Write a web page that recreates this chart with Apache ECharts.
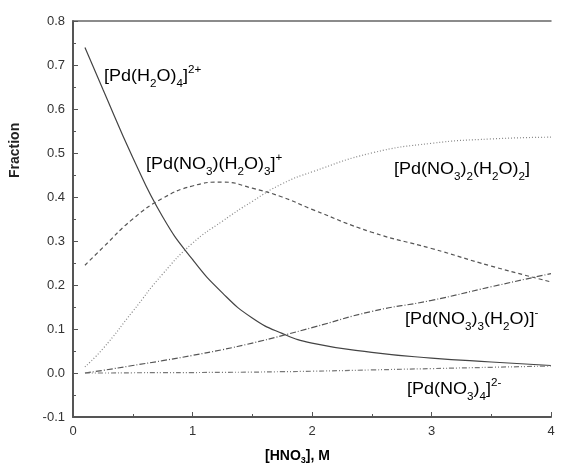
<!DOCTYPE html>
<html>
<head>
<meta charset="utf-8">
<script src="https://cdn.jsdelivr.net/npm/echarts@6/dist/echarts.min.js"></script>
<style>
  html, body { margin: 0; padding: 0; background: #fff; }
  #main { width: 566px; height: 465px; }
</style>
</head>
<body>
<div id="main"></div>
<script>
// [HNO3], M
var hno3 = [0.1, 0.25, 0.5, 0.75, 1, 1.25, 1.5, 1.75, 2, 2.5, 3, 3.5, 4];
// species fractions
var pdH2O4 = [0.74, 0.645, 0.49, 0.355, 0.258, 0.182, 0.125, 0.09, 0.068, 0.047, 0.034, 0.025, 0.017];
var pdNO3H2O3 = [0.245, 0.285, 0.35, 0.397, 0.425, 0.434, 0.42, 0.40, 0.372, 0.32, 0.283, 0.243, 0.207];
var pdNO32H2O2 = [0.014, 0.055, 0.14, 0.225, 0.295, 0.345, 0.39, 0.43, 0.457, 0.5, 0.522, 0.532, 0.536];
var pdNO33H2O = [0, 0.006, 0.017, 0.028, 0.04, 0.053, 0.068, 0.085, 0.103, 0.14, 0.165, 0.196, 0.226];
var pdNO34 = [0, 0, 0.0005, 0.0008, 0.001, 0.0015, 0.002, 0.003, 0.004, 0.007, 0.01, 0.013, 0.016];

function pairs(ys) {
  return hno3.map(function (x, i) { return [x, ys[i]]; });
}

var FONT = 'Liberation Sans, Arial, sans-serif';
var rich = {
  n: { fontSize: 17, fontFamily: FONT, color: '#222', lineHeight: 25 },
  sb: { fontSize: 11, fontFamily: FONT, color: '#222', verticalAlign: 'bottom', lineHeight: 12 },
  sp: { fontSize: 11, fontFamily: FONT, color: '#222', verticalAlign: 'top', lineHeight: 12 }
};

function label(text, x, y) {
  return { type: 'text', x: x, y: y, scaleX: 1.06, style: { text: text, rich: rich } };
}

var chart = echarts.init(document.getElementById('main'));

function line(name, ys, color, type) {
  return {
    name: name, type: 'line',
    data: pairs(ys), smooth: 0.5, showSymbol: false,
    lineStyle: { color: color, width: 1.2, type: type }
  };
}

var option = {
  animation: false,
  grid: { left: 73, right: 15, top: 21, bottom: 48 },
  xAxis: [
    {
      type: 'value', min: 0, max: 4, interval: 1, position: 'bottom',
      axisLine: { show: true, onZero: false, lineStyle: { color: '#555', width: 2 } },
      axisTick: { show: true, inside: true, length: 5, lineStyle: { color: '#555' } },
      minorTick: { show: true, splitNumber: 2, length: 3, lineStyle: { color: '#555' } },
      axisLabel: { color: '#333', fontSize: 13 },
      splitLine: { show: false }
    },
    {
      type: 'value', min: 0, max: 4, position: 'top',
      axisLine: { show: true, onZero: false, lineStyle: { color: '#666', width: 1.5 } },
      axisTick: { show: false }, axisLabel: { show: false }, splitLine: { show: false }
    }
  ],
  yAxis: {
    type: 'value', min: -0.1, max: 0.8, interval: 0.1,
    axisLine: { show: true, lineStyle: { color: '#555', width: 2 } },
    axisTick: { show: true, inside: true, length: 5, lineStyle: { color: '#555' } },
    minorTick: { show: true, splitNumber: 2, length: 3, lineStyle: { color: '#555' } },
    axisLabel: {
      color: '#333', fontSize: 13,
      formatter: function (v) { return v.toFixed(1); }
    },
    splitLine: { show: false }
  },
  series: [
    line('[Pd(H2O)4]2+', pdH2O4, '#444', 'solid'),
    line('[Pd(NO3)(H2O)3]+', pdNO3H2O3, '#555', [4, 3]),
    line('[Pd(NO3)2(H2O)2]', pdNO32H2O2, '#888', [1, 2]),
    line('[Pd(NO3)3(H2O)]-', pdNO33H2O, '#555', [6, 2, 1, 2]),
    line('[Pd(NO3)4]2-', pdNO34, '#777', [5, 2, 1, 2, 1, 2])
  ],
  graphic: [
    label('{n|[Pd(H}{sb|2}{n|O)}{sb|4}{n|]}{sp|2+}', 104, 64),
    label('{n|[Pd(NO}{sb|3}{n|)(H}{sb|2}{n|O)}{sb|3}{n|]}{sp|+}', 146, 152),
    label('{n|[Pd(NO}{sb|3}{n|)}{sb|2}{n|(H}{sb|2}{n|O)}{sb|2}{n|]}', 394, 157),
    label('{n|[Pd(NO}{sb|3}{n|)}{sb|3}{n|(H}{sb|2}{n|O)]}{sp|-}', 405, 307),
    label('{n|[Pd(NO}{sb|3}{n|)}{sb|4}{n|]}{sp|2-}', 407, 377),
    {
      type: 'text', x: 8, y: 178,
      style: { text: 'Fraction', font: 'bold 14px ' + FONT, fill: '#222' },
      rotation: Math.PI / 2, originX: 0, originY: 0
    },
    {
      type: 'text', x: 265, y: 447,
      style: {
        text: '{b|[HNO}{bs|3}{b|], M}',
        rich: {
          b: { fontSize: 14, fontWeight: 'bold', fontFamily: FONT, color: '#222', lineHeight: 18 },
          bs: { fontSize: 9, fontWeight: 'bold', fontFamily: FONT, color: '#222', verticalAlign: 'bottom', lineHeight: 9 }
        }
      }
    }
  ]
};

chart.setOption(option);
</script>
</body>
</html>
